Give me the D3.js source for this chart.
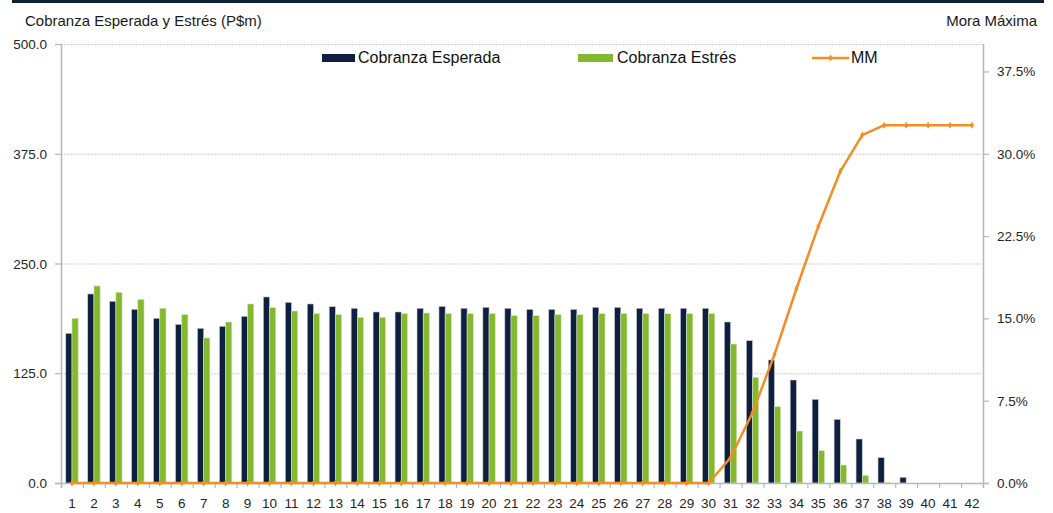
<!DOCTYPE html>
<html>
<head>
<meta charset="utf-8">
<script src="https://cdn.jsdelivr.net/npm/d3@7"></script>
<style>
  html, body { margin: 0; padding: 0; background: #fff; }
  svg { display: block; }
  text { font-family: "Liberation Sans", Arial, sans-serif; }
</style>
</head>
<body>
<svg id="chart" width="1053" height="513"></svg>
<script>
const categories = ["1","2","3","4","5","6","7","8","9","10","11","12","13","14","15","16","17","18","19","20","21","22","23","24","25","26","27","28","29","30","31","32","33","34","35","36","37","38","39","40","41","42"];
const cobranzaEsperada = [170.5, 215.3, 207.0, 197.8, 187.6, 180.7, 176.2, 178.5, 189.8, 211.9, 205.8, 203.9, 200.8, 199.0, 194.8, 194.8, 199.0, 201.2, 199.0, 200.1, 199.0, 197.8, 197.8, 197.8, 200.1, 200.1, 199.0, 199.0, 199.0, 199.0, 183.4, 162.1, 140.1, 117.3, 95.3, 72.5, 50.1, 28.8, 6.5, 0, 0, 0];
const cobranzaEstres = [187.6, 224.4, 217.2, 209.2, 199.0, 191.7, 165.2, 183.4, 203.9, 199.7, 195.9, 192.9, 191.7, 188.7, 188.7, 192.9, 193.6, 192.9, 192.9, 192.9, 190.6, 190.6, 191.7, 191.7, 192.9, 192.9, 192.9, 192.9, 192.9, 192.9, 158.3, 120.4, 86.9, 59.2, 36.8, 20.5, 8.7, 0.5, 0, 0, 0, 0];
const moraMaxima = [0,0,0,0,0,0,0,0,0,0,0,0,0,0,0,0,0,0,0,0,0,0,0,0,0,0,0,0,0,0, 0.023, 0.064, 0.117, 0.177, 0.234, 0.284, 0.317, 0.326, 0.326, 0.326, 0.326, 0.326];
const leftTicks = [0, 125, 250, 375, 500];
const rightTicks = [0, 0.075, 0.15, 0.225, 0.30, 0.375];
const seriesNames = ["Cobranza Esperada", "Cobranza Estrés", "MM"];

const colDark = "#0f1f3f", colGreen = "#84b82f", colOrange = "#f28e24";
const textCol = "#262626", axisCol = "#b8b8b8";

const svg = d3.select("#chart");
const L = 61, R = 983, T = 44, B = 483;

// top bar
svg.append("rect").attr("x", 12).attr("y", 0).attr("width", 1032).attr("height", 3).attr("fill", "#0f1f3f");

// titles
svg.append("text").attr("x", 25).attr("y", 26).attr("font-size", "15px").attr("fill", "#1a1a1a")
  .text("Cobranza Esperada y Estrés (P$m)");
svg.append("text").attr("x", 1037).attr("y", 26).attr("font-size", "15px").attr("fill", "#1a1a1a")
  .attr("text-anchor", "end").text("Mora Máxima");

const x = d3.scaleBand().domain(categories).range([L, R]).paddingInner(0.435).paddingOuter(0.2175);
const x1 = d3.scaleBand().domain(["esp", "est"]).range([0, x.bandwidth()]);
const y = d3.scaleLinear().domain([0, 500]).range([B, T]);
const y2 = d3.scaleLinear().domain([0, 0.4]).range([B, T]);
const step = (R - L) / categories.length;

// gridlines
svg.append("g").selectAll("line").data(leftTicks.filter(d => d > 0)).join("line")
  .attr("x1", L).attr("x2", R).attr("y1", d => y(d) + 0.5).attr("y2", d => y(d) + 0.5)
  .attr("stroke", "#cfcfcf").attr("stroke-width", 1).attr("stroke-dasharray", "2,1");

// bars
const gBars = svg.append("g");
gBars.selectAll("rect.esp").data(cobranzaEsperada).join("rect").attr("class", "esp")
  .attr("x", (d, i) => x(categories[i]) + x1("esp"))
  .attr("width", x1.bandwidth())
  .attr("y", d => y(d)).attr("height", d => B - y(d))
  .attr("fill", colDark).attr("stroke", d => d > 0 ? "#c8ccd4" : "none").attr("stroke-width", 0.6);
gBars.selectAll("rect.est").data(cobranzaEstres).join("rect").attr("class", "est")
  .attr("x", (d, i) => x(categories[i]) + x1("est"))
  .attr("width", x1.bandwidth())
  .attr("y", d => y(d)).attr("height", d => B - y(d))
  .attr("fill", colGreen).attr("stroke", d => d > 0 ? "#d6e8bf" : "none").attr("stroke-width", 0.6);

// axes
const gAx = svg.append("g");
gAx.append("line").attr("x1", L + 0.5).attr("x2", L + 0.5).attr("y1", T).attr("y2", B + 5).attr("stroke", axisCol).attr("stroke-width", 1.5);
gAx.append("line").attr("x1", R + 0.5).attr("x2", R + 0.5).attr("y1", T).attr("y2", B + 5).attr("stroke", axisCol).attr("stroke-width", 1.5);
gAx.append("line").attr("x1", L - 6).attr("x2", R + 6).attr("y1", B + 0.5).attr("y2", B + 0.5).attr("stroke", axisCol).attr("stroke-width", 1.5);

// left ticks
gAx.selectAll("line.lt").data(leftTicks).join("line").attr("class", "lt")
  .attr("x1", L - 6).attr("x2", L).attr("y1", d => y(d) + 0.5).attr("y2", d => y(d) + 0.5)
  .attr("stroke", axisCol).attr("stroke-width", 1.2);
gAx.selectAll("text.lt").data(leftTicks).join("text").attr("class", "lt")
  .attr("x", 47).attr("y", d => y(d) + 5).attr("text-anchor", "end")
  .attr("font-size", "13.5px").attr("fill", textCol).text(d => d3.format(".1f")(d));

// right ticks
gAx.selectAll("line.rt").data(rightTicks).join("line").attr("class", "rt")
  .attr("x1", R).attr("x2", R + 6).attr("y1", d => y2(d) + 0.5).attr("y2", d => y2(d) + 0.5)
  .attr("stroke", axisCol).attr("stroke-width", 1.2);
gAx.selectAll("text.rt").data(rightTicks).join("text").attr("class", "rt")
  .attr("x", 997).attr("y", d => y2(d) + 5)
  .attr("font-size", "13.5px").attr("fill", textCol).text(d => d3.format(".1%")(d));

// bottom ticks (between categories)
gAx.selectAll("line.bt").data(d3.range(categories.length + 1)).join("line").attr("class", "bt")
  .attr("x1", i => L + i * step + 0.5).attr("x2", i => L + i * step + 0.5)
  .attr("y1", B).attr("y2", B + 5).attr("stroke", axisCol).attr("stroke-width", 1.2);
gAx.selectAll("text.bt").data(categories).join("text").attr("class", "bt")
  .attr("x", d => x(d) + x.bandwidth() / 2).attr("y", 508).attr("text-anchor", "middle")
  .attr("font-size", "13.5px").attr("fill", textCol).text(d => d);

// MM line
const cx = i => x(categories[i]) + x.bandwidth() / 2;
const line = d3.line().x((d, i) => cx(i)).y(d => y2(d));
svg.append("path").datum(moraMaxima).attr("d", line)
  .attr("fill", "none").attr("stroke", colOrange).attr("stroke-width", 2.5).attr("stroke-linejoin", "round");
const diamond = d3.symbol().type(d3.symbolDiamond).size(14);
svg.append("g").selectAll("path").data(moraMaxima).join("path")
  .attr("transform", (d, i) => `translate(${cx(i)},${y2(d)})`)
  .attr("d", diamond).attr("fill", colOrange);

// legend
const lg = svg.append("g");
lg.append("rect").attr("x", 322).attr("y", 54).attr("width", 33).attr("height", 8).attr("fill", colDark);
lg.append("text").attr("x", 358).attr("y", 63).attr("font-size", "16px").attr("fill", "#111").text(seriesNames[0]);
lg.append("rect").attr("x", 578).attr("y", 54).attr("width", 35).attr("height", 8).attr("fill", colGreen);
lg.append("text").attr("x", 617).attr("y", 63).attr("font-size", "16px").attr("fill", "#111").text(seriesNames[1]);
lg.append("line").attr("x1", 812).attr("x2", 849).attr("y1", 58).attr("y2", 58).attr("stroke", colOrange).attr("stroke-width", 2.5);
lg.append("path").attr("transform", "translate(830.5,58)").attr("d", diamond).attr("fill", colOrange);
lg.append("text").attr("x", 851).attr("y", 63).attr("font-size", "16px").attr("fill", "#111").text(seriesNames[2]);
</script>
</body>
</html>
